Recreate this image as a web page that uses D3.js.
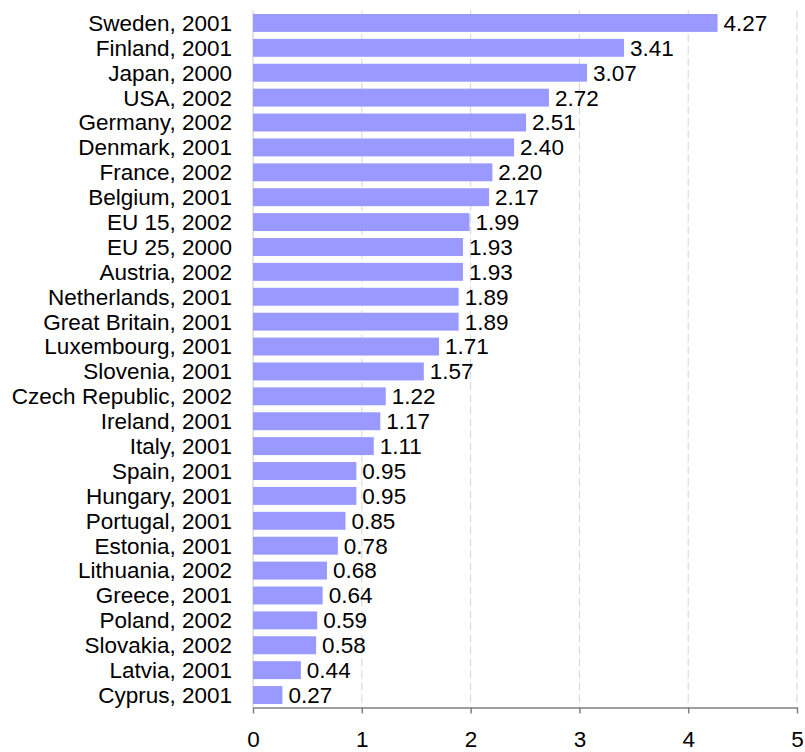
<!DOCTYPE html>
<html>
<head>
<meta charset="utf-8">
<script src="https://cdn.jsdelivr.net/npm/d3@7"></script>
<style>
  body { margin: 0; background: #fff; }
  svg { display: block; font-family: "Liberation Sans", Arial, sans-serif; }
</style>
</head>
<body>
<svg width="805" height="752"></svg>
<script>
// categories, top to bottom
const countries = [
    "Sweden, 2001", "Finland, 2001", "Japan, 2000", "USA, 2002", "Germany, 2002",
    "Denmark, 2001", "France, 2002", "Belgium, 2001", "EU 15, 2002", "EU 25, 2000",
    "Austria, 2002", "Netherlands, 2001", "Great Britain, 2001", "Luxembourg, 2001",
    "Slovenia, 2001", "Czech Republic, 2002", "Ireland, 2001", "Italy, 2001",
    "Spain, 2001", "Hungary, 2001", "Portugal, 2001", "Estonia, 2001",
    "Lithuania, 2002", "Greece, 2001", "Poland, 2002", "Slovakia, 2002",
    "Latvia, 2001", "Cyprus, 2001"
];

const values = [
    4.27, 3.41, 3.07, 2.72, 2.51, 2.40, 2.20, 2.17, 1.99, 1.93,
    1.93, 1.89, 1.89, 1.71, 1.57, 1.22, 1.17, 1.11, 0.95, 0.95,
    0.85, 0.78, 0.68, 0.64, 0.59, 0.58, 0.44, 0.27
];

const xTicks = [0, 1, 2, 3, 4, 5];

const rows = countries.map((c, i) => ({ name: c, value: values[i] }));

const svg = d3.select("svg");
const plotLeft = 253, plotRight = 797, plotTop = 10.5, plotBottom = 707.5;
const fontSize = "22.5px";

const x = d3.scaleLinear().domain([0, 5]).range([plotLeft, plotRight]);
const y = d3.scaleBand().domain(countries).range([plotTop, plotBottom]).paddingInner(0.28).paddingOuter(0.14);

// dashed gridlines
svg.append("g")
    .selectAll("line")
    .data(xTicks.slice(1))
    .enter().append("line")
    .attr("x1", d => x(d)).attr("x2", d => x(d))
    .attr("y1", plotTop).attr("y2", plotBottom)
    .attr("stroke", "#d4d4d4")
    .attr("stroke-dasharray", "8,4");

// left edge line
svg.append("line")
    .attr("x1", x(0)).attr("x2", x(0))
    .attr("y1", plotTop).attr("y2", plotBottom)
    .attr("stroke", "#c8c8c8");

// bars
svg.append("g")
    .selectAll("rect")
    .data(rows)
    .enter().append("rect")
    .attr("x", x(0))
    .attr("y", d => y(d.name))
    .attr("width", d => x(d.value) - x(0))
    .attr("height", y.bandwidth())
    .attr("fill", "#9999ff");

// category labels
svg.append("g")
    .selectAll("text")
    .data(rows)
    .enter().append("text")
    .attr("x", plotLeft - 21)
    .attr("y", d => y(d.name) + y.bandwidth() / 2)
    .attr("dy", ".35em")
    .attr("text-anchor", "end")
    .style("font-size", fontSize)
    .style("fill", "#000")
    .text(d => d.name);

// value labels
svg.append("g")
    .selectAll("text")
    .data(rows)
    .enter().append("text")
    .attr("x", d => x(d.value) + 6)
    .attr("y", d => y(d.name) + y.bandwidth() / 2)
    .attr("dy", ".35em")
    .style("font-size", fontSize)
    .style("fill", "#000")
    .text(d => d.value.toFixed(2));

// x axis
const axis = svg.append("g")
    .attr("transform", `translate(0,${plotBottom})`)
    .call(d3.axisBottom(x).tickValues(xTicks).tickFormat(d3.format("d")).tickSizeInner(6).tickSizeOuter(0).tickPadding(18));

axis.select(".domain").attr("stroke", "#808080").attr("stroke-width", 1.5);
axis.selectAll(".tick line").attr("stroke", "#808080").attr("stroke-width", 1.5);
axis.selectAll(".tick text")
    .style("font-size", fontSize)
    .style("font-family", "\"Liberation Sans\", Arial, sans-serif")
    .attr("fill", "#000");
</script>
</body>
</html>
